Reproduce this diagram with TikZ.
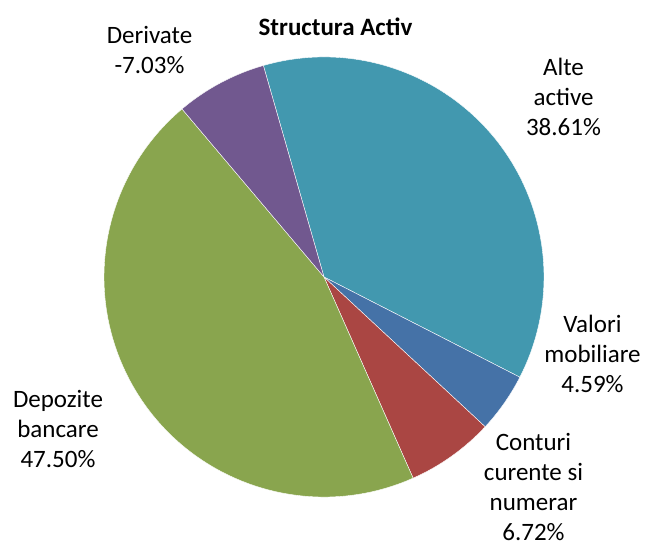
\documentclass[tikz,border=0pt]{standalone}
\usepackage{fontspec}
\setmainfont{Carlito}
\usetikzlibrary{positioning}

\definecolor{alteCol}{RGB}{66,152,175}
\definecolor{valoriCol}{RGB}{69,114,167}
\definecolor{conturiCol}{RGB}{170,70,67}
\definecolor{depoziteCol}{RGB}{137,165,78}
\definecolor{derivateCol}{RGB}{113,88,143}

\begin{document}
\begin{tikzpicture}[x=1pt, y=1pt, every node/.style={font=\fontsize{25}{30}\selectfont, align=center, inner sep=0pt},
        slice/.style={draw=white, line width=0.4pt}]
        \useasboundingbox (0,0) rectangle (648,548);
        \coordinate (c) at (324,271);   % centre of the pie

        % slices, clockwise from the top, angles from the absolute values
        \foreach \a/\b/\col in {106/-27.1/alteCol, -27.1/-42.9/valoriCol, -42.9/-66.1/conturiCol, -66.1/-229.8/depoziteCol, 130.2/106/derivateCol}
            \fill[\col, slice] (c) -- ++(\a:220pt) arc[start angle=\a, end angle=\b, radius=220pt] -- cycle;

        \node[font=\fontsize{25}{30}\selectfont\bfseries] (title) at (335.5,521) {Structura Activ};
        \node (derivate) at (149.5,498) {Derivate\\-7.03\%};       % label of the purple slice
        \node (alte) at (563.5,451) {Alte\\active\\38.61\%};          % label of the teal slice
        \node (valori) at (592.5,194) {Valori\\mobiliare\\4.59\%};    % label of the blue slice
        \node (conturi) at (533.5,61) {Conturi\\curente si\\numerar\\6.72\%};   % label of the red slice
        \node (depozite) at (58,119) {Depozite\\bancare\\47.50\%};    % label of the green slice
    \end{tikzpicture}
\end{document}
